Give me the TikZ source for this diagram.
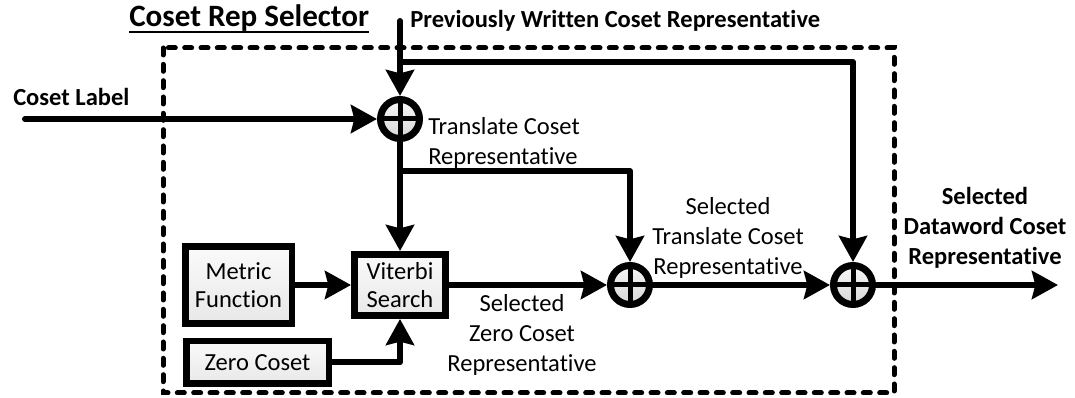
\documentclass[tikz,border=0pt]{standalone}
\usepackage{fontspec}
\setmainfont{Carlito}[Ligatures=NoCommon]
\usetikzlibrary{arrows.meta,shadows}
% stacked lines with the first baseline as the box baseline
\newcommand\stk[2]{\begin{tabular}[t]{@{}#1@{}}#2\end{tabular}}
\begin{document}
\begin{tikzpicture}[x=0.75pt,y=-0.75pt,
  txt/.style={font=\fontsize{18.4}{22.5}\selectfont, inner sep=0pt},
  bold/.style={font=\fontsize{18.4}{22.5}\selectfont\bfseries, inner sep=0pt},
  wire/.style={line width=4.5pt, line cap=round, line join=round},
  arr/.style={wire, -{Stealth[length=19.5pt,width=21pt,inset=2.5pt]}},
  block/.style={draw, line width=4.9pt, top color=black!2, bottom color=black!9,
    general shadow={fill=black!14, shadow xshift=2.5pt, shadow yshift=-2.5pt},
    font=\fontsize{18.4}{21}\selectfont, align=center, inner sep=0pt},
  adder/.style={circle, draw, line width=5.25pt, minimum size=29.25pt, inner sep=0pt,
    top color=black!3, bottom color=black!16,
    path picture={\draw[line width=3.75pt]
      (path picture bounding box.north) -- (path picture bounding box.south)
      (path picture bounding box.west) -- (path picture bounding box.east);}},
  frame/.style={line width=3.75pt, line cap=round, dash pattern=on 5.25pt off 7pt}
]
\useasboundingbox (0,0) rectangle (1075,398);

% selector boundary
\draw[frame] (163,48) rectangle (894,393);

% title and labels
\node[inner sep=0pt, font=\fontsize{23.3}{28}\selectfont\bfseries, anchor=base west] (title) at (129,27) {Coset Rep Selector};
\draw[line width=1.9pt] ([yshift=-3.75pt]title.base west) -- ([yshift=-3.75pt]title.base east);
\node[bold, anchor=base west] (prev) at (410,28) {Previously Written Coset Representative};
\node[bold, anchor=base west] (lab) at (13,106) {Coset Label};
\node[txt, anchor=base west] (tcr) at (428,135) {\stk{l}{Translate Coset\\Representative}};
\node[txt, anchor=base] (szc) at (522,312) {\stk{c}{Selected\\Zero Coset\\Representative}};
\node[txt, anchor=base] (stc) at (728,215) {\stk{c}{Selected\\Translate Coset\\Representative}};
\node[bold, anchor=base] (sdc) at (985,205) {\stk{c}{Selected\\Dataword Coset\\Representative}};

% adders
\node[adder] (c1) at (400,119) {};
\node[adder] (c2) at (630,285) {};
\node[adder] (c3) at (853,285) {};

% processing blocks
\node[block, minimum width=79.9pt, minimum height=58.1pt] (met) at (238.5,285) {Metric\\Function};
\node[block, minimum width=68.6pt, minimum height=46.1pt] (vit) at (400,285) {Viterbi\\Search};
\node[block, minimum width=106.9pt, minimum height=31.9pt] (zero) at (257.5,362.5) {Zero Coset};

% free ends and branch points
\coordinate (inTop) at (400,21);
\coordinate (inLab) at (25,119);
\coordinate (fb) at (400,62);
\coordinate (br) at (400,171);
\coordinate (out) at (1058,285);

% signal flow
\draw[arr] (inTop) -- (c1);
\draw[arr] (inLab) -- (c1);
\draw[arr] (fb) -| (c3);
\draw[arr] (c1) -- (vit);
\draw[arr] (br) -| (c2);
\draw[arr] (met) -- (vit);
\draw[arr] (zero) -| (vit);
\draw[arr] (vit) -- (c2);
\draw[arr] (c2) -- (c3);
\draw[arr] (c3) -- (out);
\end{tikzpicture}
\end{document}
